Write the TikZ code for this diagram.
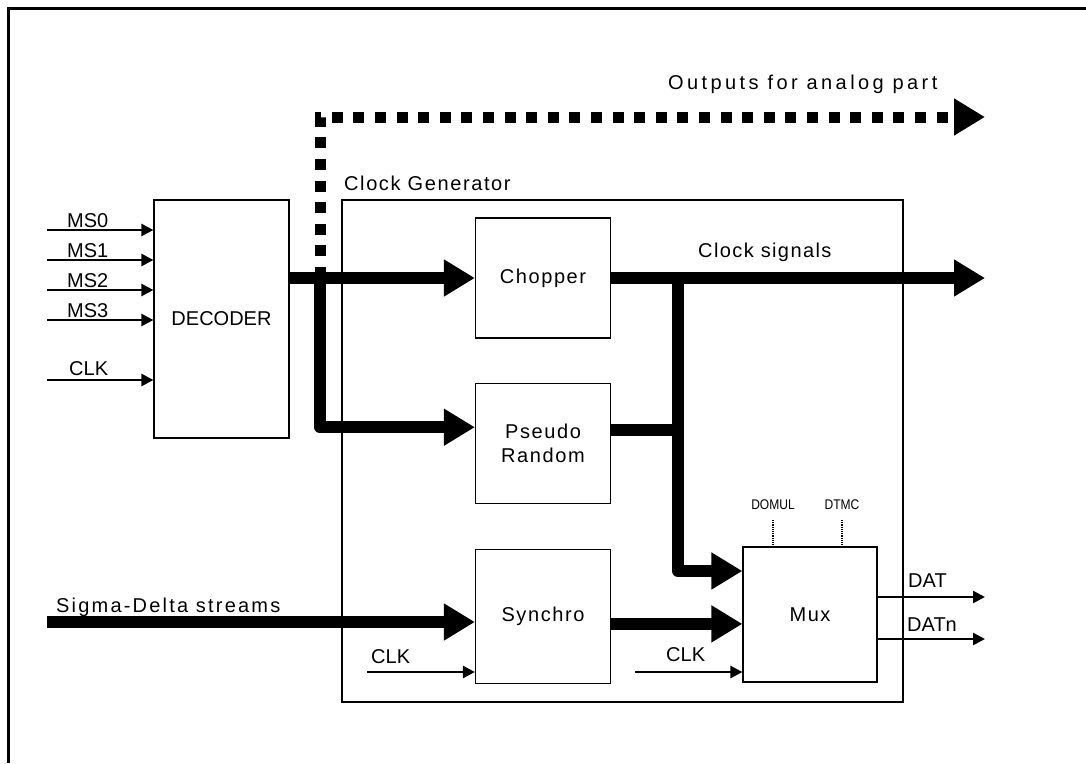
\documentclass[tikz,border=0pt]{standalone}
\usepackage{fontspec}
\setmainfont{Liberation Sans}
\newfontfamily\pinfamily{Liberation Sans}[FakeStretch=0.86]
\usetikzlibrary{arrows.meta, positioning}
\newcommand{\diagfont}{\fontsize{20}{24}\selectfont}
\newcommand{\pinfont}{\pinfamily\fontsize{14}{16}\selectfont}
\newcommand{\track}[1]{\addfontfeature{LetterSpace=#1}}
\tikzset{
    block/.style={rectangle, draw, line width=1.2pt, minimum width=135pt,
        minimum height=120pt, align=center, font=\diagfont\track{8}, inner sep=0pt},
    bus/.style={line width=12pt, line join=round, -{Triangle[length=31pt, width=35pt]}},
    ctrlbus/.style={line width=11pt, dash pattern=on 11pt off 10.6pt, -{Triangle[length=31pt, width=35pt]}},
    wire/.style={line width=2.5pt, -{Triangle[length=12pt, width=12pt]}},
    lbl/.style={font=\diagfont, inner sep=0pt, anchor=base west},
    pin/.style={font=\pinfont, inner sep=0pt, anchor=base},
    frame/.style={line width=3pt}
}

\begin{document}
\begin{tikzpicture}[x=1pt, y=-1pt, node distance=44pt]
    \useasboundingbox (0,0) rectangle (1086,763);
    \draw[frame] (1086,8) -- (8,8) -- (8,763);

    % boxes
    \node[block, minimum width=561pt, minimum height=502pt] (clkgen) at (622.5,451) {};
    \node[lbl, font=\diagfont\track{8}] (clkgenlbl) at (344,190) {Clock Generator};
    \node[block, minimum height=238pt, font=\diagfont] (decoder) at (221.5,319) {DECODER};
    \node[block] (chopper) at (543,278) {Chopper};
    \node[block, below=of chopper] (pseudo) {Pseudo\\Random};
    \node[block, below=45pt of pseudo, minimum height=134pt] (synchro) {Synchro};
    \node[block, minimum width=134pt, minimum height=135pt] (mux) at (810,614.5) {Mux};

    % free ends
    \coordinate (ms0) at (47,230);
    \coordinate (ms1) at (47,260);
    \coordinate (ms2) at (47,290);
    \coordinate (ms3) at (47,320);
    \coordinate (clkdec) at (47,380);
    \coordinate (split) at (320,278);
    \coordinate (analog) at (985,117);
    \coordinate (clkout) at (985,278);
    \coordinate (split2) at (678,278);
    \coordinate (sdin) at (47,622);
    \coordinate (clksyn) at (367,672);
    \coordinate (clkmux) at (635,672);
    \coordinate (dat) at (985,597);
    \coordinate (datn) at (985,639);

    % decoder inputs
    \draw[wire] (ms0) -- (ms0 -| decoder.west);
    \draw[wire] (ms1) -- (ms1 -| decoder.west);
    \draw[wire] (ms2) -- (ms2 -| decoder.west);
    \draw[wire] (ms3) -- (ms3 -| decoder.west);
    \draw[wire] (clkdec) -- (clkdec -| decoder.west);
    \node[lbl] (ms0lbl) at (67,227) {MS0};
    \node[lbl] (ms1lbl) at (67,257) {MS1};
    \node[lbl] (ms2lbl) at (67,287) {MS2};
    \node[lbl] (ms3lbl) at (67,317) {MS3};
    \node[lbl] (clkdeclbl) at (69,375) {CLK};

    % decoder outputs
    \draw[ctrlbus] (split) |- (analog);
    \node[lbl, font=\diagfont\track{17}] (analoglbl) at (668,89) {Outputs for analog part};
    \draw[bus] (decoder.east |- chopper.west) -- (chopper.west);
    \draw[bus] (split) |- ([yshift=16pt]pseudo.west);

    % clock signals
    \draw[bus] (chopper.east) -- (clkout);
    \node[lbl, font=\diagfont\track{7}] (clkoutlbl) at (698,257) {Clock signals};
    \draw[line width=12pt] ([yshift=13pt]pseudo.east) -- ([yshift=13pt]pseudo.east -| split2);
    \draw[bus] (split2) |- ([yshift=43.5pt]mux.west);

    % data path
    \draw[bus] (sdin) -- (sdin -| synchro.west);
    \node[lbl, font=\diagfont\track{11}] (sdinlbl) at (56,612) {Sigma-Delta streams};
    \draw[bus] ([yshift=-7.5pt]synchro.east) -- ([yshift=-7.5pt]synchro.east -| mux.west);
    \draw[wire] (clksyn) -- (clksyn -| synchro.west);
    \node[lbl] (clksynlbl) at (371,663) {CLK};
    \draw[wire] (clkmux) -- (clkmux -| mux.west);
    \node[lbl] (clkmuxlbl) at (666,661) {CLK};

    % mux pins
    \node[pin] (domul) at (773,509) {DOMUL};
    \node[pin] (dtmc) at (842,509) {DTMC};
    \draw[densely dotted, line width=1.2pt] (domul.south |- 0,520) -- (domul.south |- mux.north);
    \draw[densely dotted, line width=1.2pt] (dtmc.south |- 0,520) -- (dtmc.south |- mux.north);
    \draw[wire] (dat -| mux.east) -- (dat);
    \draw[wire] (datn -| mux.east) -- (datn);
    \node[lbl] (datlbl) at (908,587) {DAT};
    \node[lbl] (datnlbl) at (907,631) {DATn};
\end{tikzpicture}
\end{document}
